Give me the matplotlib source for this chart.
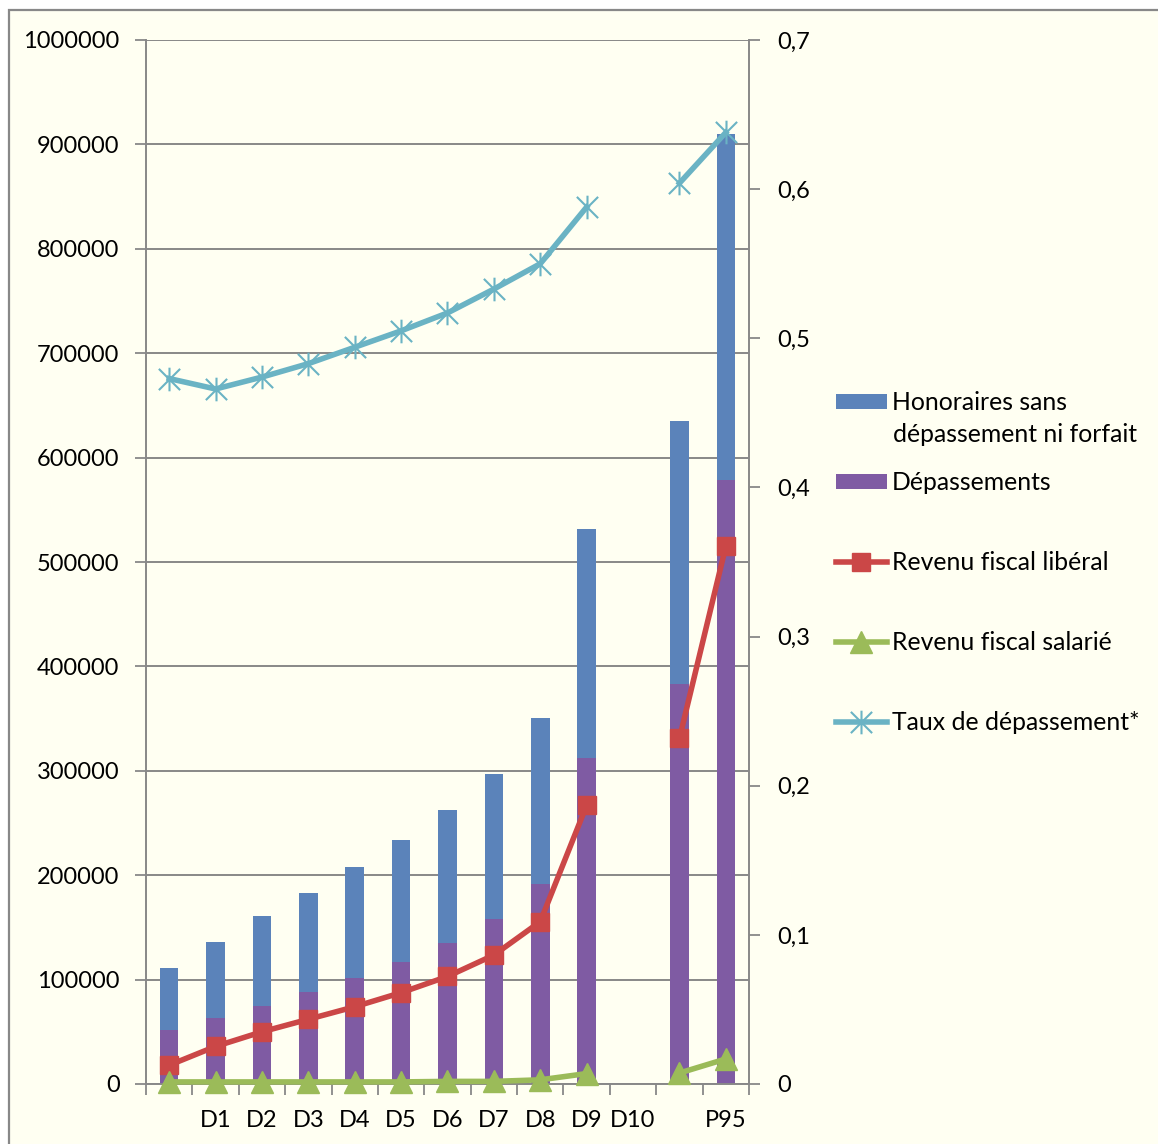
import numpy as np
import matplotlib
matplotlib.use("Agg")
import matplotlib.pyplot as plt
from matplotlib.patches import Rectangle, Patch
from matplotlib.lines import Line2D
from matplotlib.path import Path

plt.rcParams['font.family'] = ['Lato', 'DejaVu Sans']

# ---- data ----
categories = ["", "D1", "D2", "D3", "D4", "D5", "D6", "D7", "D8", "D9", "D10", "", "P95"]
depassements = [52000, 63000, 75000, 88000, 102000, 117000, 135000, 158000, 192000, 312000, np.nan, 383000, 579000]
honoraires_sans_dep = [59000, 73000, 86000, 95000, 106000, 117000, 127000, 139000, 159000, 220000, np.nan, 252000, 331000]
revenu_liberal = [18000, 36000, 50000, 62000, 74000, 87500, 103000, 123500, 155500, 267000, np.nan, 331000, 515000]
revenu_salarie = [2000, 2000, 2000, 2000, 2000, 2000, 2500, 2500, 4000, 10000, np.nan, 10500, 24000]
taux_depassement = [0.473, 0.466, 0.474, 0.483, 0.494, 0.505, 0.517, 0.533, 0.550, 0.588, np.nan, 0.604, 0.638]
left_ticks = [0, 100000, 200000, 300000, 400000, 500000, 600000, 700000, 800000, 900000, 1000000]
right_ticks = [0, 0.1, 0.2, 0.3, 0.4, 0.5, 0.6, 0.7]
right_tick_labels = ["0", "0,1", "0,2", "0,3", "0,4", "0,5", "0,6", "0,7"]
legend_labels = ["Honoraires sans", "dépassement ni forfait", "Dépassements",
                 "Revenu fiscal libéral", "Revenu fiscal salarié", "Taux de dépassement*"]

# ---- style ----
W, H = 1158, 1144
BG = "#FFFFF2"
GRID = "#888888"
C_BLUE = "#5B83BA"
C_PURPLE = "#7F5BA3"
C_RED = "#CB4747"
C_GREEN = "#9BBB59"
C_TEAL = "#6AB3C4"
FS = 17.0
LFS = 17.8
LW = 4.0

fig = plt.figure(figsize=(W / 100, H / 100), dpi=100)
fig.patch.set_facecolor("white")
bgrect = Rectangle((9 / W, -0.01), 1.02, 1 - 10 / H + 0.01, transform=fig.transFigure,
                   facecolor=BG, edgecolor=GRID, linewidth=1.6, zorder=-10)
fig.patches.append(bgrect)

left, right, top, bottom = 146, 749, 40, 1084
ax = fig.add_axes([left / W, 1 - bottom / H, (right - left) / W, (bottom - top) / H])
ax.set_facecolor("none")

x = np.arange(len(categories))
bw = 0.4
dep = np.array(depassements, dtype=float)
hsd = np.array(honoraires_sans_dep, dtype=float)
ax.bar(x, dep, width=bw, color=C_PURPLE, zorder=2)
ax.bar(x, hsd, width=bw, bottom=dep, color=C_BLUE, zorder=2)

ax.plot(x, revenu_liberal, color=C_RED, lw=LW, marker="s", ms=13.5, mec=C_RED, mfc=C_RED,
        zorder=4, clip_on=False)
ax.plot(x, revenu_salarie, color=C_GREEN, lw=LW, marker="^", ms=15.5, mec=C_GREEN, mfc=C_GREEN,
        zorder=4, clip_on=False)

ax.set_xlim(-0.5, len(categories) - 0.5)
ax.set_ylim(0, 1000000)
ax.set_yticks(left_ticks)
ax.set_yticklabels([str(v) for v in left_ticks])
ax.set_xticks(x)
ax.set_xticklabels(categories)
ax.set_xticks(np.arange(-0.5, len(categories), 1.0), minor=True)
ax.tick_params(axis="x", which="major", length=0, pad=19, labelsize=FS)
ax.tick_params(axis="x", which="minor", length=8, width=1.3, color=GRID, direction="out")
ax.tick_params(axis="y", length=8, width=1.3, color=GRID, pad=11, labelsize=FS, direction="out")
ax.yaxis.grid(True, color=GRID, lw=1.4, zorder=0)
ax.set_axisbelow(True)
for s in ["top", "right"]:
    ax.spines[s].set_visible(False)
for s in ["left", "bottom"]:
    ax.spines[s].set_color(GRID)
    ax.spines[s].set_linewidth(1.4)

ax2 = ax.twinx()
ax2.set_ylim(0, 0.7)
ax2.set_yticks(right_ticks)
ax2.set_yticklabels(right_tick_labels)
ax2.tick_params(axis="y", length=8, width=1.3, color=GRID, pad=12, labelsize=FS, direction="out")
for s in ["top", "left", "bottom"]:
    ax2.spines[s].set_visible(False)
ax2.spines["right"].set_color(GRID)
ax2.spines["right"].set_linewidth(1.4)

star = Path([(0, -1), (0, 1), (-0.9, -0.9), (0.9, 0.9), (-0.9, 0.9), (0.9, -0.9)],
            [Path.MOVETO, Path.LINETO, Path.MOVETO, Path.LINETO, Path.MOVETO, Path.LINETO])
ax2.plot(x, taux_depassement, color=C_TEAL, lw=LW, marker=star, ms=17, mew=1.5,
         mec=C_TEAL, mfc="none", zorder=5, clip_on=False)

# ---- legend (one entry per legend to match spacing) ----
handles = [
    Patch(facecolor=C_BLUE, edgecolor="none"),
    Patch(facecolor=C_PURPLE, edgecolor="none"),
    Line2D([], [], color=C_RED, lw=LW, marker="s", ms=13.5, mec=C_RED, mfc=C_RED),
    Line2D([], [], color=C_GREEN, lw=LW, marker="^", ms=15.5, mec=C_GREEN, mfc=C_GREEN),
    Line2D([], [], color=C_TEAL, lw=LW, marker=star, ms=17, mew=1.5, mec=C_TEAL, mfc="none"),
]
labs = [legend_labels[0], legend_labels[2], legend_labels[3], legend_labels[4], legend_labels[5]]
ys = [403, 483, 563, 643, 723]
for h, lab, yy in zip(handles, labs, ys):
    fig.legend([h], [lab], loc="center left", bbox_to_anchor=(836 / W, 1 - yy / H),
               bbox_transform=fig.transFigure, frameon=False, fontsize=LFS,
               handlelength=2.05, handleheight=0.58, handletextpad=0.22,
               borderpad=0, borderaxespad=0)
fig.text(893 / W, 1 - 435 / H, legend_labels[1], fontsize=LFS, va="center", ha="left")

fig.savefig("out.png", dpi=100, facecolor=fig.get_facecolor())
